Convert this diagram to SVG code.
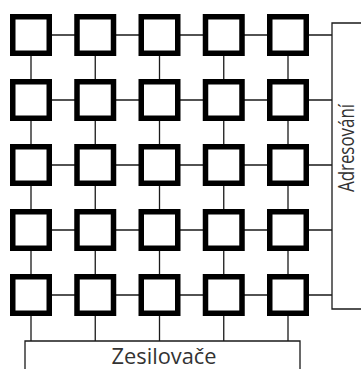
<svg xmlns="http://www.w3.org/2000/svg" width="361" height="369" viewBox="0 0 361 369">
<style>
.cell{fill:#fff;stroke:#000;stroke-width:5.5}
.wire{fill:none;stroke:#1a1a1a;stroke-width:1.3}
.box{fill:none;stroke:#1a1a1a;stroke-width:1.3}
.lbl{font-family:"Open Sans","Liberation Sans",sans-serif;font-size:22px;fill:#333}
</style>
<rect width="361" height="369" fill="#fff"/>
<g id="connectors" class="wire">
<path d="M31,35H332M31,100H332M31,165H332M31,230H332M31,295H332"/>
<path d="M31,35V341M95.25,35V341M159.5,35V341M223.75,35V341M288,35V341"/>
</g>
<g id="addressing">
<path class="box" d="M361,23H332V309H361"/>
<text class="lbl" transform="translate(354,148) rotate(-90)" text-anchor="middle" textLength="88" lengthAdjust="spacingAndGlyphs">Adresování</text>
</g>
<g id="amplifiers">
<path class="box" d="M25,369V341H300V369"/>
<text class="lbl" x="164" y="364" text-anchor="middle" textLength="105" lengthAdjust="spacingAndGlyphs">Zesilovače</text>
</g>
<g id="c11"><rect class="cell" x="12.75" y="16.75" width="36.5" height="36.5"/></g>
<g id="c12"><rect class="cell" x="77" y="16.75" width="36.5" height="36.5"/></g>
<g id="c13"><rect class="cell" x="141.25" y="16.75" width="36.5" height="36.5"/></g>
<g id="c14"><rect class="cell" x="205.5" y="16.75" width="36.5" height="36.5"/></g>
<g id="c15"><rect class="cell" x="269.75" y="16.75" width="36.5" height="36.5"/></g>
<g id="c21"><rect class="cell" x="12.75" y="81.75" width="36.5" height="36.5"/></g>
<g id="c22"><rect class="cell" x="77" y="81.75" width="36.5" height="36.5"/></g>
<g id="c23"><rect class="cell" x="141.25" y="81.75" width="36.5" height="36.5"/></g>
<g id="c24"><rect class="cell" x="205.5" y="81.75" width="36.5" height="36.5"/></g>
<g id="c25"><rect class="cell" x="269.75" y="81.75" width="36.5" height="36.5"/></g>
<g id="c31"><rect class="cell" x="12.75" y="146.75" width="36.5" height="36.5"/></g>
<g id="c32"><rect class="cell" x="77" y="146.75" width="36.5" height="36.5"/></g>
<g id="c33"><rect class="cell" x="141.25" y="146.75" width="36.5" height="36.5"/></g>
<g id="c34"><rect class="cell" x="205.5" y="146.75" width="36.5" height="36.5"/></g>
<g id="c35"><rect class="cell" x="269.75" y="146.75" width="36.5" height="36.5"/></g>
<g id="c41"><rect class="cell" x="12.75" y="211.75" width="36.5" height="36.5"/></g>
<g id="c42"><rect class="cell" x="77" y="211.75" width="36.5" height="36.5"/></g>
<g id="c43"><rect class="cell" x="141.25" y="211.75" width="36.5" height="36.5"/></g>
<g id="c44"><rect class="cell" x="205.5" y="211.75" width="36.5" height="36.5"/></g>
<g id="c45"><rect class="cell" x="269.75" y="211.75" width="36.5" height="36.5"/></g>
<g id="c51"><rect class="cell" x="12.75" y="276.75" width="36.5" height="36.5"/></g>
<g id="c52"><rect class="cell" x="77" y="276.75" width="36.5" height="36.5"/></g>
<g id="c53"><rect class="cell" x="141.25" y="276.75" width="36.5" height="36.5"/></g>
<g id="c54"><rect class="cell" x="205.5" y="276.75" width="36.5" height="36.5"/></g>
<g id="c55"><rect class="cell" x="269.75" y="276.75" width="36.5" height="36.5"/></g>
</svg>
